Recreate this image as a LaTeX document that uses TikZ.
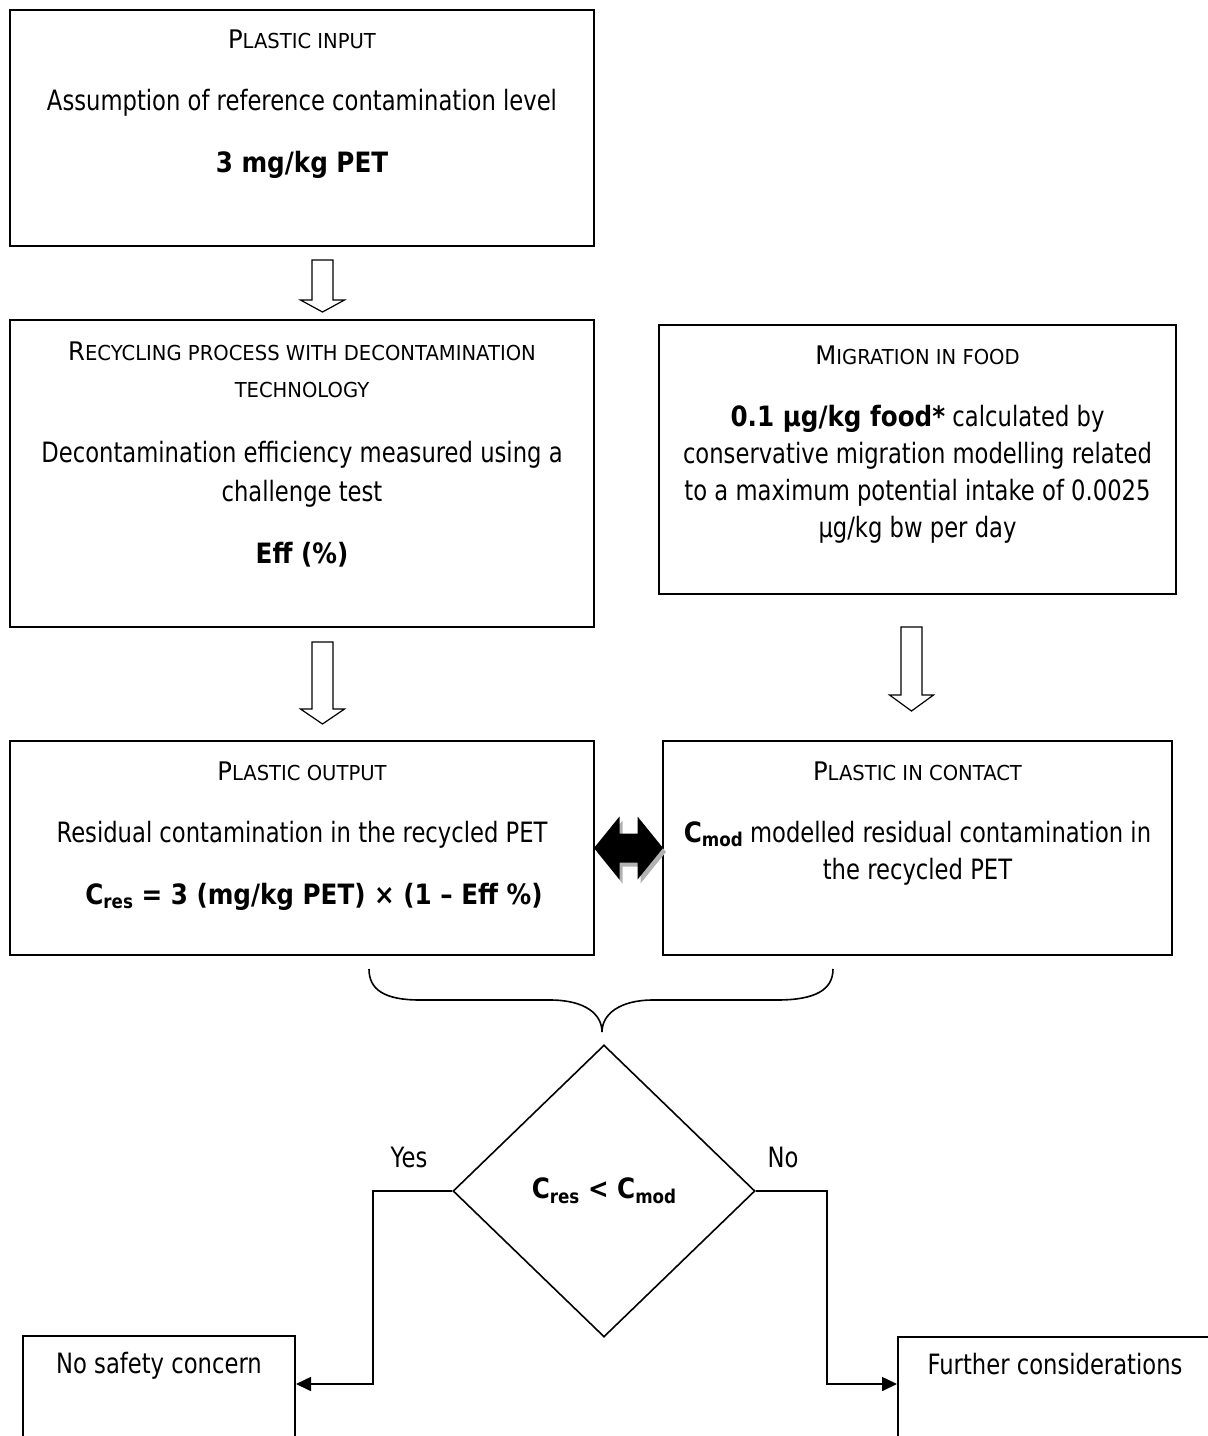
\documentclass[tikz,border=0pt]{standalone}
\usepackage{fontspec}
\setmainfont{DejaVu Sans}[FakeStretch=0.81, BoldFeatures={FakeStretch=0.88}]
\newfontfamily\labelfont{DejaVu Sans}[FakeStretch=0.95]
\usetikzlibrary{positioning,shapes.geometric,arrows.meta}

\newcommand{\boxlabel}[2]{{\labelfont\fontsize{12.8}{18.5}\selectfont #1}{\labelfont\fontsize{10.3}{18.5}\selectfont #2}}
\newcommand{\lowidx}[1]{\raisebox{-0.3ex}{\fontsize{9.5}{10}\selectfont #1}}
\newcommand{\blockarrow}[4]{%
  \draw[line width=0.6pt, fill=white] (#1-10.5,#2) -- (#1+10.5,#2) -- (#1+10.5,#3)
    -- (#1+22,#3) -- (#1,#4) -- (#1-22,#3) -- (#1-10.5,#3) -- cycle;}

\tikzset{
  box/.style={shape=rectangle, draw, line width=1pt, inner sep=0pt},
  txt/.style={align=center, inner sep=0pt, font=\fontsize{14}{18.5}\selectfont},
  decision/.style={shape=diamond, draw, line width=0.8pt, inner sep=0pt, font=\fontsize{14}{18.5}\selectfont\bfseries},
  flow/.style={line width=0.8pt, -{Triangle[length=7.5pt,width=7pt]}}
}

\begin{document}
\begin{tikzpicture}[x=0.5pt, y=-0.5pt]
\path[use as bounding box, clip] (0,0) rectangle (1208,1436);

\node (input) at (302,128) [box, minimum width=292pt, minimum height=118pt] {};
\node (recycling) at (302,473.5) [box, minimum width=292pt, minimum height=153.5pt] {};
\node (migration) at (917.5,459.5) [box, minimum width=258.5pt, minimum height=134.5pt] {};
\node (output) at (302,848) [box, minimum width=292pt, minimum height=107pt] {};
\node (contact) at (917.5,848) [box, minimum width=254.5pt, minimum height=107pt] {};
\node (compare) at (604,1191) [decision, minimum width=151pt, minimum height=146pt] {C\lowidx{res} < C\lowidx{mod}};
\node (safe) at (159,1393) [box, minimum width=136pt, minimum height=57pt] {};
\node (further) at (1055,1393.5) [box, minimum width=157pt, minimum height=56.5pt] {};

\node (input-text) [txt, below=10pt of input.north] {\boxlabel{P}{LASTIC INPUT}\\[12.5pt]
  Assumption of reference contamination level\\[12.5pt]
  \textbf{3 mg/kg PET}};
\node (recycling-text) [txt, below=11pt of recycling.north] {\boxlabel{R}{ECYCLING PROCESS WITH DECONTAMINATION}\\
  \boxlabel{}{TECHNOLOGY}\\[14pt]
  Decontamination efficiency measured using a\\[1pt] challenge test\\[12.5pt]
  \textbf{Eff (\%)}};
\node (migration-text) [txt, below=10.5pt of migration.north] {\boxlabel{M}{IGRATION IN FOOD}\\[12.5pt]
  \textbf{0.1 µg/kg food*} calculated by\\ conservative migration modelling related\\
  to a maximum potential intake of 0.0025\\ µg/kg bw per day};
\node (output-text) [txt, below=10.5pt of output.north] {\boxlabel{P}{LASTIC OUTPUT}\\[12.5pt]
  Residual contamination in the recycled PET\\[12.5pt]
  \hspace*{12pt}\textbf{C\lowidx{res} = 3 (mg/kg PET) × (1 – Eff \%)}};
\node (contact-text) [txt, below=10.5pt of contact.north] {\boxlabel{P}{LASTIC IN CONTACT}\\[12.5pt]
  \textbf{C\lowidx{mod}} modelled residual contamination in\\ the recycled PET};
\node (safe-text) [txt, below=8.5pt of safe.north] {No safety concern};
\node (further-text) [txt, below=8.5pt of further.north] {Further considerations};

% block arrows
\blockarrow{322.5}{260}{300}{312}
\blockarrow{322.5}{642}{709}{724}
\blockarrow{911.5}{627}{695}{711}

% two-way arrow between the plastics
\coordinate (swap) at (628.5,848);
\begin{scope}[shift={(swap)}]
\fill[black!30] ([shift={(3,4)}]-34.5,0) -- ([shift={(3,4)}]-9,-31.5) -- ([shift={(3,4)}]-9,-14.5) -- ([shift={(3,4)}]9,-14.5)
  -- ([shift={(3,4)}]9,-31.5) -- ([shift={(3,4)}]34.5,0) -- ([shift={(3,4)}]9,31.5) -- ([shift={(3,4)}]9,14.5)
  -- ([shift={(3,4)}]-9,14.5) -- ([shift={(3,4)}]-9,31.5) -- cycle;
\fill[black] (-34.5,0) -- (-9,-31.5) -- (-9,-14.5) -- (9,-14.5) -- (9,-31.5) -- (34.5,0)
  -- (9,31.5) -- (9,14.5) -- (-9,14.5) -- (-9,31.5) -- cycle;
\end{scope}

% brace
\draw[line width=0.8pt] (369,969) .. controls (369,990) and (385,1000) .. (420,1000) -- (550,1000)
  .. controls (585,1000) and (602,1014) .. (602,1032) .. controls (602,1014) and (620,1000) .. (653,1000)
  -- (777,1000) .. controls (815,1000) and (833,990) .. (833,969);

\coordinate (yes) at (373,1384);
\coordinate (no) at (827,1384);
\draw[flow] (compare.west) -| (yes) -- (safe.east |- yes);
\draw[flow] (compare.east) -| (no) -- (further.west |- no);
\node (yes-label) at (409,1157) [txt] {Yes};
\node (no-label) at (783,1157) [txt] {No};

\end{tikzpicture}
\end{document}
